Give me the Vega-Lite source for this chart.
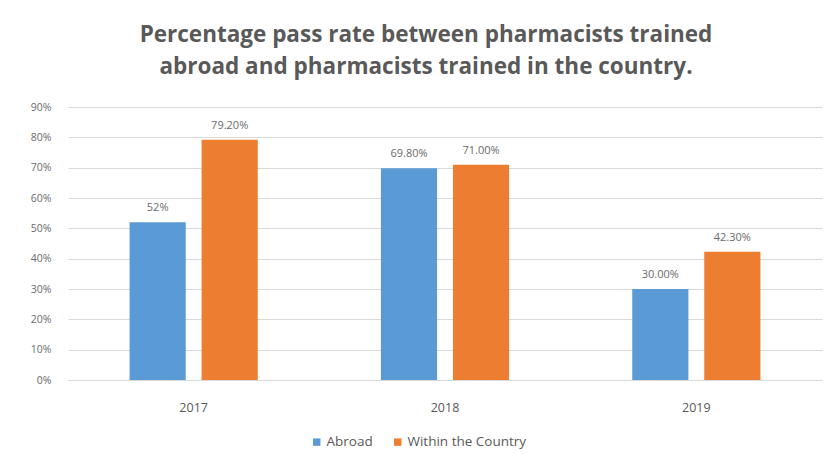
{
  "$schema": "https://vega.github.io/schema/vega-lite/v6.json",
  "autosize": "none",
  "width": 754,
  "height": 273,
  "padding": {"left": 68, "top": 107, "right": 11, "bottom": 74},
  "background": "#ffffff",
  "config": {
    "font": "Open Sans",
    "view": {"stroke": null}
  },
  "title": {
    "text": ["Percentage pass rate between pharmacists trained", "abroad and pharmacists trained  in the country."],
    "font": "Open Sans",
    "fontSize": 22.5,
    "fontWeight": "bold",
    "color": "#595959",
    "anchor": "middle",
    "dx": -19,
    "offset": 24,
    "lineHeight": 32
  },
  "data": {
    "values": [
      {"year": "2017", "group": "Abroad", "rate": 0.52, "label": "52%"},
      {"year": "2017", "group": "Within the Country", "rate": 0.792, "label": "79.20%"},
      {"year": "2018", "group": "Abroad", "rate": 0.698, "label": "69.80%"},
      {"year": "2018", "group": "Within the Country", "rate": 0.71, "label": "71.00%"},
      {"year": "2019", "group": "Abroad", "rate": 0.30, "label": "30.00%"},
      {"year": "2019", "group": "Within the Country", "rate": 0.423, "label": "42.30%"}
    ]
  },
  "encoding": {
    "x": {
      "field": "year", "type": "nominal", "title": null,
      "scale": {"paddingInner": 0.49, "paddingOuter": 0.245},
      "axis": {"labelAngle": 0, "ticks": false, "domainColor": "#d9d9d9", "labelColor": "#595959", "labelFontSize": 12.5, "labelPadding": 21}
    },
    "xOffset": {"field": "group", "type": "nominal", "scale": {"paddingInner": 0.22, "paddingOuter": 0}},
    "y": {
      "field": "rate", "type": "quantitative", "title": null,
      "scale": {"domain": [0, 0.9], "nice": false},
      "axis": {"format": ".0%", "values": [0, 0.1, 0.2, 0.3, 0.4, 0.5, 0.6, 0.7, 0.8, 0.9], "domain": false, "ticks": false, "gridColor": "#d9d9d9", "labelColor": "#6b6b6b", "labelFontSize": 10.5, "labelPadding": 17}
    }
  },
  "layer": [
    {
      "mark": {"type": "bar"},
      "encoding": {
        "color": {
          "field": "group", "type": "nominal",
          "scale": {"domain": ["Abroad", "Within the Country"], "range": ["#5b9bd5", "#ed7d31"]},
          "legend": {"orient": "none", "legendX": 242, "legendY": 328, "title": null, "symbolType": "square", "symbolSize": 55, "labelFontSize": 13.5, "labelColor": "#595959", "direction": "horizontal", "columnPadding": 18, "labelOffset": 3}
        }
      }
    },
    {
      "mark": {"type": "text", "dy": -14, "fontSize": 11, "color": "#6b6b6b"},
      "encoding": {"text": {"field": "label"}}
    }
  ]
}
